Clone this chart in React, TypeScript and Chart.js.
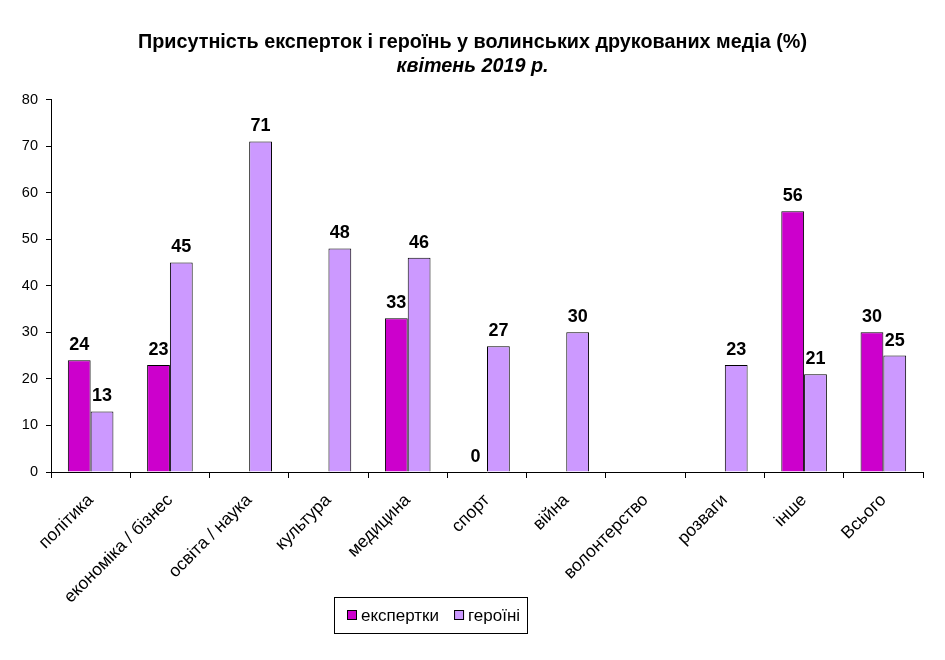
import React, { useEffect, useRef } from "react";
import { Chart, registerables } from "chart.js";

Chart.register(...registerables);

const categories = [
  "політика",
  "економіка / бізнес",
  "освіта / наука",
  "культура",
  "медицина",
  "спорт",
  "війна",
  "волонтерство",
  "розваги",
  "інше",
  "Всього",
];
const expertky: (number | null)[] = [24, 23, null, null, 33, 0, null, null, null, 56, 30];
const heroini: (number | null)[] = [13, 45, 71, 48, 46, 27, 30, null, 23, 21, 25];
const titleLine1 = "Присутність експерток і героїнь у волинських друкованих медіа (%)";
const titleLine2 = "квітень 2019 р.";
const seriesNames = ["експертки", "героїні"];
const seriesColors = ["#CC00CC", "#CC99FF"];
const yMin = 0;
const yMax = 80;
const yStep = 10;

const FONT = "Arial, 'Liberation Sans', sans-serif";

const dataLabelPlugin = {
  id: "dataLabels",
  afterDatasetsDraw(chart: any) {
    const ctx = chart.ctx;
    ctx.save();
    ctx.font = `bold 18px ${FONT}`;
    ctx.fillStyle = "#000";
    ctx.textAlign = "center";
    ctx.textBaseline = "bottom";
    chart.data.datasets.forEach((ds: any, di: number) => {
      const meta = chart.getDatasetMeta(di);
      meta.data.forEach((el: any, i: number) => {
        const v = ds.data[i];
        if (v === null || v === undefined) return;
        ctx.fillText(String(v), el.x, el.y - 6);
      });
    });
    ctx.restore();
  },
};

// Legend drawn in a framed box below the axis labels
const boxedLegendPlugin = {
  id: "boxedLegend",
  afterDraw(chart: any) {
    const ctx = chart.ctx;
    ctx.save();
    ctx.font = `17px ${FONT}`;
    const padL = 13;
    const padR = 7;
    const box = 10;
    const gapText = 4;
    const gapItem = 15;
    const widths = seriesNames.map((n) => ctx.measureText(n).width);
    let total = padL + padR;
    widths.forEach((w, i) => {
      total += box + gapText + w + (i < widths.length - 1 ? gapItem : 0);
    });
    const centerX = 431;
    const top = 597;
    const height = 36;
    const left = Math.round(centerX - total / 2);
    const cy = top + height / 2;
    ctx.strokeStyle = "#000";
    ctx.lineWidth = 1;
    ctx.strokeRect(left + 0.5, top + 0.5, Math.round(total), height);
    let x = left + padL;
    seriesNames.forEach((name, i) => {
      ctx.fillStyle = seriesColors[i];
      ctx.fillRect(x, cy - 5, box, box);
      ctx.strokeStyle = "#000";
      ctx.strokeRect(x + 0.5, cy - 4.5, box - 1, box - 1);
      x += box + gapText;
      ctx.fillStyle = "#000";
      ctx.textAlign = "left";
      ctx.textBaseline = "middle";
      ctx.fillText(name, x, cy + 1);
      x += widths[i] + gapItem;
    });
    ctx.restore();
  },
};

export default function App() {
  const ref = useRef<HTMLCanvasElement | null>(null);

  useEffect(() => {
    if (!ref.current) return;
    const chart = new Chart(ref.current, {
      type: "bar",
      data: {
        labels: categories,
        datasets: [
          {
            label: seriesNames[0],
            data: expertky,
            backgroundColor: seriesColors[0],
            borderColor: "#000",
            borderWidth: 1,
            barPercentage: 1,
            categoryPercentage: 0.575,
          },
          {
            label: seriesNames[1],
            data: heroini,
            backgroundColor: seriesColors[1],
            borderColor: "#000",
            borderWidth: 1,
            barPercentage: 1,
            categoryPercentage: 0.575,
          },
        ],
      },
      options: {
        animation: false,
        responsive: true,
        maintainAspectRatio: false,
        layout: { padding: { top: 0, right: 0, bottom: 58, left: 0 } },
        plugins: {
          title: {
            display: true,
            text: titleLine1,
            color: "#000",
            font: { family: FONT, size: 19.8, weight: "bold" },
            padding: { top: 31, bottom: 0 },
          },
          subtitle: {
            display: true,
            text: titleLine2,
            color: "#000",
            font: { family: FONT, size: 19.8, weight: "bold", style: "italic" },
            padding: { top: 0, bottom: 21 },
          },
          legend: { display: false },
          tooltip: { enabled: false },
        },
        scales: {
          x: {
            grid: {
              display: true,
              drawOnChartArea: false,
              drawTicks: true,
              tickLength: 6,
              color: "#000",
              offset: true,
            },
            border: { display: true, color: "#000", width: 1 },
            ticks: {
              color: "#000",
              font: { family: FONT, size: 17.5 },
              minRotation: 45,
              maxRotation: 45,
              autoSkip: false,
              padding: 12,
            },
            afterFit(scale: any) {
              scale.height = 130;
            },
          },
          y: {
            min: yMin,
            max: yMax,
            grid: {
              display: true,
              drawOnChartArea: false,
              drawTicks: true,
              tickLength: 5,
              color: "#000",
            },
            border: { display: true, color: "#000", width: 1 },
            ticks: {
              stepSize: yStep,
              color: "#000",
              font: { family: FONT, size: 14.5 },
              padding: 8,
            },
            afterFit(scale: any) {
              scale.width = 51;
            },
          },
          yRight: {
            position: "right",
            display: true,
            grid: { display: false },
            border: { display: false },
            ticks: { display: false },
            afterFit(scale: any) {
              scale.width = 22;
            },
          },
        },
      },
      plugins: [dataLabelPlugin, boxedLegendPlugin],
    });
    return () => chart.destroy();
  }, []);

  return (
    <div style={{ position: "fixed", left: 0, top: 0, width: 945, height: 660, background: "#fff" }}>
      <canvas ref={ref} />
    </div>
  );
}
